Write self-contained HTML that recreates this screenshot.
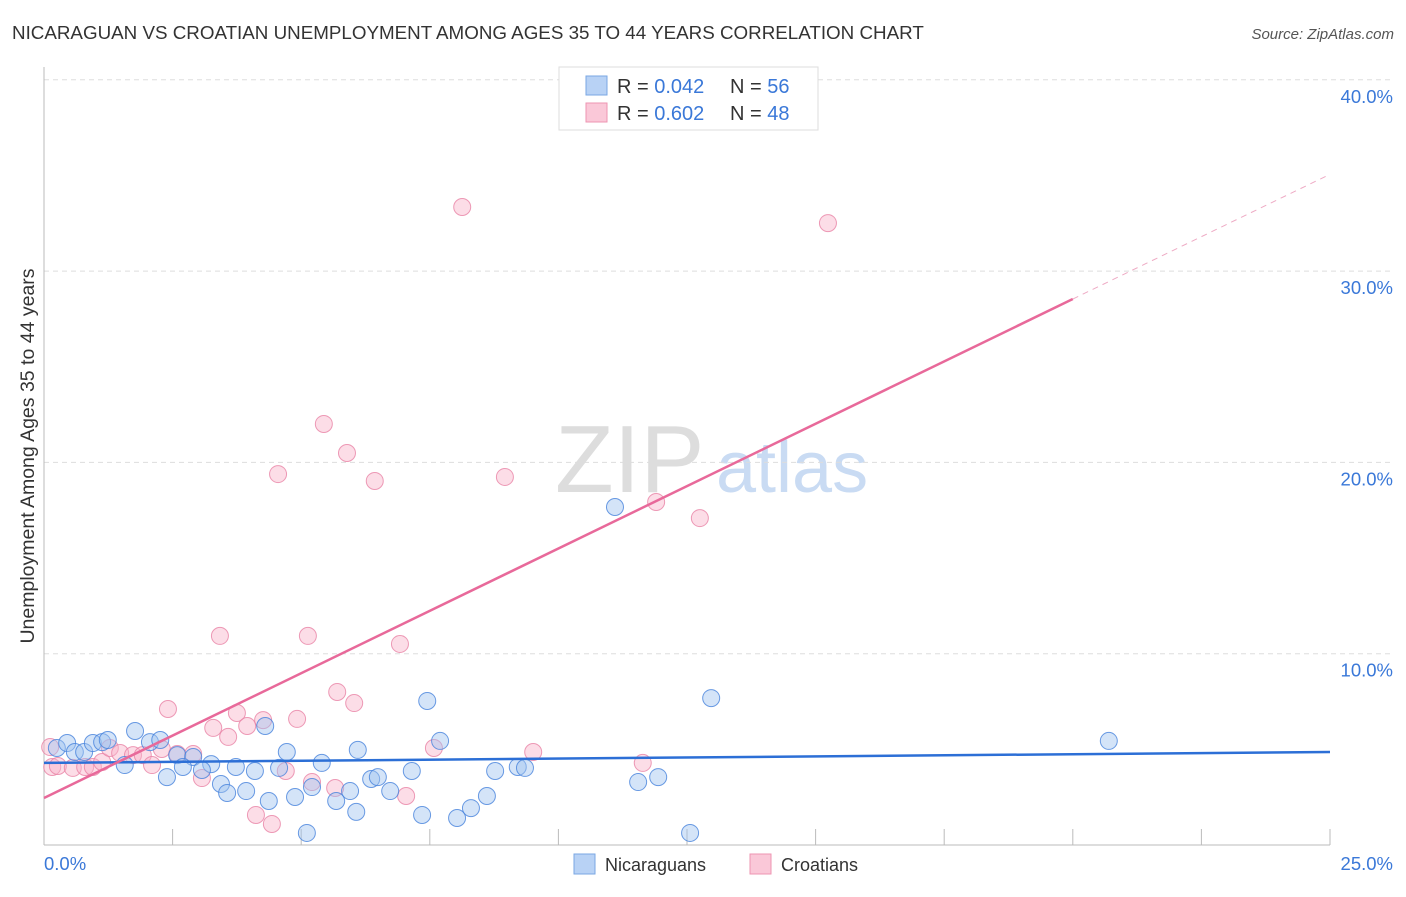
<!DOCTYPE html>
<html><head><meta charset="utf-8"><style>
body{margin:0;background:#fff;font-family:"Liberation Sans",sans-serif;}
svg text{font-family:"Liberation Sans",sans-serif;}
</style></head><body>
<svg id="chart" width="1406" height="892">
<text x="12" y="39" font-size="18.8" fill="#333">NICARAGUAN VS CROATIAN UNEMPLOYMENT AMONG AGES 35 TO 44 YEARS CORRELATION CHART</text>
<text x="1394" y="39" font-size="15" fill="#555" font-style="italic" text-anchor="end">Source: ZipAtlas.com</text>
<text x="555" y="492" font-size="96" fill="#ddd" font-family="Liberation Serif">ZIP</text>
<text x="716" y="492" font-size="72" fill="#c9dbf3">atlas</text>
<text transform="translate(34,456) rotate(-90)" font-size="19.5" fill="#333" text-anchor="middle">Unemployment Among Ages 35 to 44 years</text>
<g id="grid"></g><g id="axes"></g><g id="pts"></g><g id="lines"></g>
<g>
<rect x="559" y="67" width="259" height="63" fill="#fff" stroke="#ddd"/>
<rect x="586" y="76" width="21" height="19" fill="#b8d2f5" stroke="#7aa7e3"/>
<rect x="586" y="103" width="21" height="19" fill="#fac8d8" stroke="#ee94b2"/>
<text x="617" y="93" font-size="20" fill="#333">R = <tspan fill="#3a78d8">0.042</tspan><tspan x="730">N = </tspan><tspan fill="#3a78d8">56</tspan></text>
<text x="617" y="120" font-size="20" fill="#333">R = <tspan fill="#3a78d8">0.602</tspan><tspan x="730">N = </tspan><tspan fill="#3a78d8">48</tspan></text>
</g>
<rect x="574" y="854" width="21" height="20" fill="#b8d2f5" stroke="#7aa7e3"/>
<text x="605" y="871" font-size="18" fill="#333">Nicaraguans</text>
<rect x="750" y="854" width="21" height="20" fill="#fac8d8" stroke="#ee94b2"/>
<text x="781" y="871" font-size="18" fill="#333">Croatians</text>
</svg>
<script>
const yTicks=[10,20,30,40];
const yTickLabels=["10.0%","20.0%","30.0%","40.0%"];
const blueX=[0.25,0.45,0.60,0.78,0.95,1.13,1.24,1.57,1.77,2.06,2.26,2.59,2.90,2.70,2.39,3.25,3.07,3.44,3.56,3.93,3.73,4.10,4.30,4.72,4.57,4.37,4.88,5.21,5.40,5.68,5.11,7.45,7.70,6.10,5.95,6.07,6.36,6.49,6.73,7.15,7.35,8.03,8.30,8.61,8.77,9.21,9.35,11.10,12.97,11.55,11.94,12.56,20.70];
const blueY=[5.07,5.33,4.86,4.86,5.33,5.38,5.49,4.18,5.96,5.38,5.49,4.70,4.60,4.08,3.55,4.23,3.92,3.19,2.72,2.82,4.08,3.87,6.22,4.86,4.03,2.30,2.51,3.03,4.29,2.30,0.63,7.53,5.44,4.97,2.82,1.73,3.45,3.55,2.82,3.87,1.57,1.41,1.93,2.56,3.87,4.08,4.03,17.67,7.68,3.29,3.55,0.63,5.44];
const pinkX=[0.16,0.27,0.12,0.56,0.80,0.95,1.13,1.28,1.48,1.73,1.92,2.10,2.29,2.41,2.59,2.90,3.07,3.29,3.58,3.75,3.95,4.26,4.92,5.70,6.03,4.12,4.43,4.70,5.21,5.66,7.04,7.58,9.51,8.13,15.24,5.44,5.89,4.55,6.43,8.96,11.90,12.75,3.42,5.13,6.92,11.64];
const pinkY=[4.08,4.13,5.12,4.03,4.08,4.08,4.34,5.07,4.81,4.70,4.70,4.18,5.02,7.11,4.76,4.76,3.50,6.12,5.65,6.90,6.22,6.53,6.59,8.00,7.42,1.57,1.10,3.87,3.29,2.98,2.56,5.07,4.86,33.35,32.51,22.01,20.49,19.39,19.03,19.24,17.93,17.09,10.93,10.93,10.51,4.29];
const blueTrend=[4.29,4.86];
const pinkTrend=[2.46,1.304];
const NS="http://www.w3.org/2000/svg";
const sx=v=>44+v*51.44, sy=v=>845-v*19.13;
function mk(t,a,p){const e=document.createElementNS(NS,t);for(const k in a)e.setAttribute(k,a[k]);p.appendChild(e);return e;}
const grid=document.getElementById('grid'),axes=document.getElementById('axes'),pts=document.getElementById('pts'),lines=document.getElementById('lines');
yTicks.forEach((t,i)=>{
 const l=mk('line',{x1:44,x2:1394,y1:sy(t),y2:sy(t),stroke:'#ddd','stroke-dasharray':'5,4'},grid);
 
 
 const tx=mk('text',{x:1393,y:sy(t)+23,'font-size':18.5,fill:'#3a78d8','text-anchor':'end'},axes);tx.textContent=yTickLabels[i];
 
 
});
mk('line',{x1:44,x2:44,y1:67,y2:845,stroke:'#bbb'},axes);
mk('line',{x1:44,x2:1330,y1:845,y2:845,stroke:'#bbb'},axes);
for(let i=1;i<=10;i++){const t=mk('line',{x1:sx(i*2.5),x2:sx(i*2.5),y1:829,y2:845,stroke:'#bbb'},axes);
 
 }
let a=mk('text',{x:44,y:870,'font-size':18.5,fill:'#3a78d8'},axes);a.textContent='0.0%';


a=mk('text',{x:1393,y:870,'font-size':18.5,fill:'#3a78d8','text-anchor':'end'},axes);a.textContent='25.0%';


pinkX.forEach((x,i)=>{const c=mk('circle',{cx:sx(x),cy:sy(pinkY[i]),r:8.5,fill:'rgba(248,180,202,0.45)',stroke:'rgba(232,130,165,0.8)','stroke-width':1},pts);
 
 });
blueX.forEach((x,i)=>{const c=mk('circle',{cx:sx(x),cy:sy(blueY[i]),r:8.5,fill:'rgba(160,195,240,0.45)',stroke:'rgba(70,130,220,0.8)','stroke-width':1},pts);
 
 });
let b=mk('line',{x1:sx(0),y1:sy(blueTrend[0]),x2:sx(25),y2:sy(blueTrend[1]),stroke:'#2c6fd6','stroke-width':2.5},lines);


let p=mk('line',{x1:sx(0),y1:sy(pinkTrend[0]),x2:sx(20),y2:sy(pinkTrend[0]+20*pinkTrend[1]),stroke:'#e8699a','stroke-width':2.5},lines);


let d=mk('line',{x1:sx(20),y1:sy(pinkTrend[0]+20*pinkTrend[1]),x2:sx(25),y2:sy(pinkTrend[0]+25*pinkTrend[1]),stroke:'#eeaac4','stroke-width':1,'stroke-dasharray':'6,5'},lines);


</script>
</body></html>
